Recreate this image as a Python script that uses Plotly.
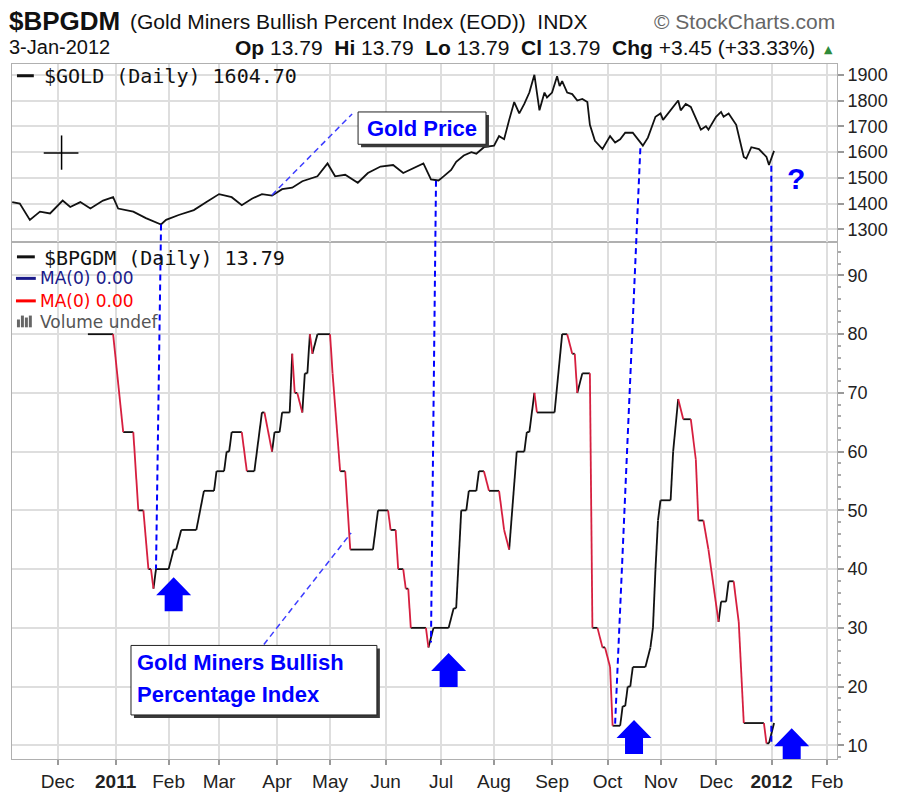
import plotly.graph_objects as go

# ---------------- data ----------------
gold_dates = [
    "2010-11-05", "2010-11-10", "2010-11-16", "2010-11-22", "2010-11-26",
    "2010-12-03", "2010-12-08", "2010-12-14", "2010-12-20", "2010-12-27",
    "2010-12-31", "2011-01-04", "2011-01-12", "2011-01-19", "2011-01-27",
    "2011-01-31", "2011-02-07", "2011-02-15", "2011-02-22", "2011-03-01",
    "2011-03-08", "2011-03-14", "2011-03-18", "2011-03-24", "2011-03-30",
    "2011-04-05", "2011-04-11", "2011-04-15", "2011-04-25", "2011-04-29",
    "2011-05-04", "2011-05-10", "2011-05-17", "2011-05-23", "2011-05-30",
    "2011-06-06", "2011-06-10", "2011-06-16", "2011-06-22", "2011-06-27",
    "2011-06-30", "2011-07-04", "2011-07-07", "2011-07-11", "2011-07-14",
    "2011-07-19", "2011-07-21", "2011-07-26", "2011-08-01", "2011-08-03",
    "2011-08-05", "2011-08-09", "2011-08-11", "2011-08-15", "2011-08-17",
    "2011-08-19", "2011-08-23", "2011-08-25", "2011-08-29", "2011-08-30",
    "2011-09-01", "2011-09-05", "2011-09-06", "2011-09-07", "2011-09-09",
    "2011-09-13", "2011-09-15", "2011-09-19", "2011-09-21", "2011-09-22",
    "2011-09-26", "2011-09-29", "2011-10-04", "2011-10-06", "2011-10-10",
    "2011-10-12", "2011-10-17", "2011-10-21", "2011-10-25", "2011-10-28",
    "2011-11-01", "2011-11-02", "2011-11-07", "2011-11-10", "2011-11-11",
    "2011-11-15", "2011-11-17", "2011-11-21", "2011-11-23", "2011-11-25",
    "2011-11-28", "2011-12-01", "2011-12-05", "2011-12-06", "2011-12-08",
    "2011-12-13", "2011-12-16", "2011-12-19", "2011-12-21", "2011-12-26",
    "2011-12-29", "2011-12-30", "2012-01-03",
]
gold_values = [
    1406, 1400, 1337, 1369, 1362,
    1412, 1387, 1406, 1381, 1412,
    1425, 1381, 1369, 1344, 1319,
    1337, 1356, 1375, 1406, 1437,
    1425, 1394, 1419, 1437, 1431,
    1456, 1462, 1487, 1506, 1556,
    1506, 1512, 1481, 1519, 1544,
    1550, 1519, 1537, 1556, 1494,
    1490, 1506, 1531, 1562, 1587,
    1600, 1594, 1619, 1625, 1662,
    1650, 1725, 1794, 1750, 1787,
    1831, 1900, 1762, 1831, 1812,
    1831, 1894, 1856, 1875, 1831,
    1825, 1800, 1806, 1794, 1706,
    1644, 1612, 1662, 1637, 1650,
    1675, 1675, 1625, 1656, 1737,
    1750, 1725, 1762, 1800, 1762,
    1787, 1775, 1731, 1687, 1700,
    1687, 1737, 1756, 1737, 1750,
    1706, 1581, 1575, 1619, 1612,
    1581, 1550, 1604.70,
]

bpgdm_dates = [
    "2010-12-17", "2010-12-31", "2011-01-06", "2011-01-12", "2011-01-14",
    "2011-01-18", "2011-01-20", "2011-01-21", "2011-01-24", "2011-01-25",
    "2011-02-01", "2011-02-03", "2011-02-04", "2011-02-08", "2011-02-16",
    "2011-02-21", "2011-02-25", "2011-02-28", "2011-03-03", "2011-03-04",
    "2011-03-07", "2011-03-08", "2011-03-14", "2011-03-16", "2011-03-21",
    "2011-03-24", "2011-03-25", "2011-03-30", "2011-03-31", "2011-04-04",
    "2011-04-05", "2011-04-08", "2011-04-11", "2011-04-12", "2011-04-13",
    "2011-04-15", "2011-04-18", "2011-04-19", "2011-04-20", "2011-04-21",
    "2011-04-25", "2011-05-02", "2011-05-03", "2011-05-06", "2011-05-10",
    "2011-05-12", "2011-05-25", "2011-05-27", "2011-06-02", "2011-06-03",
    "2011-06-07", "2011-06-08", "2011-06-10", "2011-06-13", "2011-06-14",
    "2011-06-15", "2011-06-23", "2011-06-24", "2011-06-28", "2011-07-06",
    "2011-07-08", "2011-07-11", "2011-07-13", "2011-07-15", "2011-07-18",
    "2011-07-21", "2011-07-22", "2011-07-26", "2011-07-28", "2011-08-03",
    "2011-08-05", "2011-08-09", "2011-08-12", "2011-08-17", "2011-08-18",
    "2011-08-19", "2011-08-23", "2011-08-24", "2011-09-02", "2011-09-07",
    "2011-09-09", "2011-09-13", "2011-09-14", "2011-09-15", "2011-09-19",
    "2011-09-22", "2011-09-23", "2011-09-27", "2011-09-29", "2011-09-30",
    "2011-10-04", "2011-10-05", "2011-10-10", "2011-10-11", "2011-10-12",
    "2011-10-13", "2011-10-14", "2011-10-17", "2011-10-24", "2011-10-26",
    "2011-10-27", "2011-10-28", "2011-10-31", "2011-11-01", "2011-11-07",
    "2011-11-08", "2011-11-10", "2011-11-14", "2011-11-17", "2011-11-21",
    "2011-11-22", "2011-11-24", "2011-11-28", "2011-12-02", "2011-12-05",
    "2011-12-07", "2011-12-08", "2011-12-12", "2011-12-14", "2011-12-16",
    "2011-12-28", "2011-12-29", "2011-12-30", "2012-01-03",
]
bpgdm_values = [
    80, 80, 63.33, 63.33, 50,
    50, 40, 40, 36.67, 40,
    40, 43.33, 43.33, 46.67, 46.67,
    53.33, 53.33, 56.67, 56.67, 60,
    60, 63.33, 63.33, 56.67, 56.67,
    66.67, 66.67, 60, 63.33, 63.33,
    66.67, 66.67, 76.67, 70, 70,
    66.67, 73.33, 73.33, 80, 76.67,
    80, 80, 73.33, 56.67, 56.67,
    43.33, 43.33, 50, 50, 46.67,
    46.67, 40, 40, 36.67, 36.67,
    30, 30, 26.67, 30, 30,
    33.33, 33.33, 50, 50, 53.33,
    53.33, 56.67, 56.67, 53.33, 53.33,
    46.67, 43.33, 60, 60, 63.33,
    63.33, 70, 66.67, 66.67, 80,
    80, 76.67, 76.67, 70, 73.33,
    73.33, 30, 30, 26.67, 26.67,
    23.33, 13.33, 13.33, 16.67, 16.67,
    20, 20, 23.33, 23.33, 26.67,
    30, 40, 48.28, 51.72, 51.72,
    60, 68.97, 65.52, 65.52, 58.62,
    48.28, 48.28, 43.33, 31.03, 34.48,
    34.48, 37.93, 37.93, 31.03, 13.79,
    13.79, 10.34, 10.34, 13.79,
]

month_ticks = ["2010-12-01", "2011-01-03", "2011-02-01", "2011-03-01", "2011-04-01",
               "2011-05-02", "2011-06-01", "2011-07-01", "2011-08-01", "2011-09-01",
               "2011-10-03", "2011-11-01", "2011-12-01", "2012-01-02", "2012-02-01"]
month_labels = ["Dec", "<b>2011</b>", "Feb", "Mar", "Apr", "May", "Jun", "Jul", "Aug",
                "Sep", "Oct", "Nov", "Dec", "<b>2012</b>", "Feb"]

# signal connectors: gold low -> BPGDM low
sig_gold_dates = ["2011-01-27", "2011-06-29", "2011-10-20", "2011-12-30 22:00"]
sig_gold_values = [1319, 1489, 1615, 1547]
sig_bp_dates = ["2011-01-25", "2011-06-27", "2011-10-06", "2011-12-30 22:00"]
sig_bp_values = [40, 27.5, 13.7, 10.5]

# buy arrows (tip position)
arrow_dates = ["2011-02-03", "2011-07-06", "2011-10-17 12:00", "2012-01-12"]
arrow_values = [38.6, 25.7, 14.3, 12.9]

# ---------------- layout constants ----------------
W, H = 899, 803
L, R, T, B = 11, 843, 64, 774
SPLIT_PX = 246
split = (B - SPLIT_PX) / (B - T)
GOLD_RANGE = [1250.6, 1941.8]
BP_RANGE = [7.67, 95.67]
X_RANGE = ["2010-11-04 22:00", "2012-02-06 23:00"]

GRID = "#dedede"
FRAME = "#b0b0b0"
BLUE = "#0000ff"
RED = "#d61f3f"
FONT = "Liberation Sans, Arial, sans-serif"


def px(x):
    return (x - L) / (R - L)


def py(y):
    return (B - y) / (B - T)


def gold_paper(v):
    return split + (v - GOLD_RANGE[0]) / (GOLD_RANGE[1] - GOLD_RANGE[0]) * (1 - split)


def bp_paper(v):
    return (v - BP_RANGE[0]) / (BP_RANGE[1] - BP_RANGE[0]) * split


def segments(dates, values, want_down):
    xs, ys = [], []
    for i in range(len(values) - 1):
        down = values[i + 1] < values[i]
        if down == want_down:
            xs += [dates[i], dates[i + 1], None]
            ys += [values[i], values[i + 1], None]
    return xs, ys


fig = go.Figure()

fig.add_trace(go.Scatter(x=gold_dates, y=gold_values, mode="lines",
                         line=dict(color="#111111", width=1.8),
                         xaxis="x2", yaxis="y2", hoverinfo="skip"))

bx, by = segments(bpgdm_dates, bpgdm_values, False)
rx, ry = segments(bpgdm_dates, bpgdm_values, True)
fig.add_trace(go.Scatter(x=bx, y=by, mode="lines", line=dict(color="#111111", width=1.8),
                         xaxis="x", yaxis="y", hoverinfo="skip", connectgaps=False))
fig.add_trace(go.Scatter(x=rx, y=ry, mode="lines", line=dict(color=RED, width=1.8),
                         xaxis="x", yaxis="y", hoverinfo="skip", connectgaps=False))

shapes = []

# signal connectors
for gd, gv, bd, bv in zip(sig_gold_dates, sig_gold_values, sig_bp_dates, sig_bp_values):
    shapes.append(dict(type="line", xref="x", yref="paper", x0=gd, y0=gold_paper(gv),
                       x1=bd, y1=bp_paper(bv), line=dict(color=BLUE, width=2, dash="6px,4px")))

# callout boxes with shadow
def box(x0, y0, x1, y1):
    shapes.append(dict(type="rect", xref="paper", yref="paper", x0=px(x0 + 3), x1=px(x1 + 3),
                       y0=py(y1 + 3), y1=py(y0 + 3), fillcolor="#3a3a3a", line=dict(width=0)))
    shapes.append(dict(type="rect", xref="paper", yref="paper", x0=px(x0), x1=px(x1),
                       y0=py(y1), y1=py(y0), fillcolor="white",
                       line=dict(color="#222222", width=1)))

# callout leader lines
shapes.append(dict(type="line", xref="paper", yref="paper", x0=px(273), y0=py(198),
                   x1=px(354), y1=py(115), line=dict(color="#3c3cff", width=1.5, dash="6px,4px")))
shapes.append(dict(type="line", xref="paper", yref="paper", x0=px(265), y0=py(657),
                   x1=px(353), y1=py(543), line=dict(color="#3c3cff", width=1.5, dash="6px,4px")))
box(360, 113, 489, 146)
box(131, 658, 379, 729)

# buy arrows
arrow_path = "M0,0 L17.5,-18 L9,-18 L9,-34 L-9,-34 L-9,-18 L-17.5,-18 Z"
for d, v in zip(arrow_dates, arrow_values):
    shapes.append(dict(type="path", xref="x", yref="y", xsizemode="pixel", ysizemode="pixel",
                       xanchor=d, yanchor=v, path=arrow_path, fillcolor=BLUE,
                       line=dict(width=0)))

# crosshair cursor
shapes.append(dict(type="line", xref="paper", yref="paper", x0=px(43), x1=px(78),
                   y0=py(155), y1=py(155), line=dict(color="black", width=1.5)))
shapes.append(dict(type="line", xref="paper", yref="paper", x0=px(61), x1=px(61),
                   y0=py(137), y1=py(172), line=dict(color="black", width=1.5)))

# legend swatches
def swatch(x0, x1, y, color):
    shapes.append(dict(type="line", xref="paper", yref="paper", x0=px(x0), x1=px(x1),
                       y0=py(y), y1=py(y), line=dict(color=color, width=3)))

swatch(16, 33, 76, "#111111")
swatch(16, 34, 261, "#111111")
swatch(15, 35, 283, "#1a1a8a")
swatch(15, 35, 306, "#ff0000")
for bx0, h in [(16, 8), (20, 12), (24, 10), (28, 12)]:
    shapes.append(dict(type="rect", xref="paper", yref="paper", x0=px(bx0), x1=px(bx0 + 3),
                       y0=py(333), y1=py(333 - h), fillcolor="#666666", line=dict(width=0)))

annotations = []


def ann(text, x, y, size, color="#111111", xanchor="left", family=FONT):
    annotations.append(dict(text=text, x=px(x), y=py(y), xref="paper", yref="paper",
                            xanchor=xanchor, yanchor="middle", showarrow=False,
                            font=dict(family=family, size=size, color=color)))


NB = "\u00a0"
last_bp = bpgdm_values[-1]
last_gold = gold_values[-1]

# header
ann("<b>$BPGDM</b>", 6, 20, 26)
ann("(Gold Miners Bullish Percent Index (EOD))" + NB * 2 + "INDX", 128, 21, 21)
ann("\u00a9" + NB + "StockCharts.com", 843, 21, 21, color="#666666", xanchor="right")
ann("3-Jan-2012", 6, 47, 20)
ann(f"<b>Op</b> {last_bp:.2f}{NB}{NB}<b>Hi</b> {last_bp:.2f}{NB}{NB}<b>Lo</b> {last_bp:.2f}"
    f"{NB}{NB}<b>Cl</b> {last_bp:.2f}{NB}{NB}<b>Chg</b> +3.45 (+33.33%)",
    823, 47, 21, xanchor="right")
ann("\u25b2", 834, 49, 11, color="#2e8b3a", xanchor="center", family="DejaVu Sans")

# panel legends
MONO = "DejaVu Sans Mono, monospace"
ann(f"$GOLD (Daily) {last_gold:.2f}", 41, 76, 20, family=MONO)
ann(f"$BPGDM (Daily) {last_bp:.2f}", 41, 262, 20, family=MONO)
ann("MA(0) 0.00", 37, 283, 17, color="#1a1a8a", family="DejaVu Sans")
ann("MA(0) 0.00", 37, 306, 17, color="#ff0000", family="DejaVu Sans")
ann("Volume undef", 37, 328, 17, color="#555555", family="DejaVu Sans")

# callout texts
ann("<b>Gold Price</b>", 424, 130, 22, color=BLUE, xanchor="center")
ann("<b>Gold Miners Bullish</b>", 135, 675, 22, color=BLUE)
ann("<b>Percentage Index</b>", 135, 708, 22, color=BLUE)
ann("<b>?</b>", 802, 181, 30, color=BLUE, xanchor="center")

tickfont = dict(family=FONT, size=18, color="#222222")
common_x = dict(type="date", range=X_RANGE, rangebreaks=[dict(bounds=["sat", "mon"])],
                tickvals=month_ticks, ticktext=month_labels, showgrid=True,
                gridcolor=GRID, gridwidth=1.5, showline=True, linecolor=FRAME,
                linewidth=1, mirror=True, zeroline=False)

fig.update_layout(
    width=W, height=H,
    margin=dict(l=L, r=W - R, t=T, b=H - B, pad=0),
    paper_bgcolor="white", plot_bgcolor="white", showlegend=False,
    hovermode=False,
    xaxis=dict(common_x, domain=[0, 1], anchor="y", ticks="outside", ticklen=5,
               tickcolor="#999999", tickwidth=1.5,
               tickfont=dict(family=FONT, size=19, color="#222222")),
    xaxis2=dict(common_x, domain=[0, 1], anchor="y2", matches="x", showticklabels=False,
                ticks=""),
    yaxis=dict(domain=[0, split], range=BP_RANGE, side="right", tick0=0, dtick=10,
               ticks="outside", ticklen=6, tickcolor="#999999", tickwidth=1.5,
               showgrid=True, gridcolor=GRID, gridwidth=1.5, zeroline=False,
               showline=True, linecolor=FRAME, linewidth=1, mirror=True,
               tickfont=tickfont,
               minor=dict(dtick=2, tick0=0, ticks="outside", ticklen=3,
                          tickcolor="#aaaaaa", showgrid=False)),
    yaxis2=dict(domain=[split, 1], range=GOLD_RANGE, side="right", tick0=0, dtick=100,
                ticks="outside", ticklen=6, tickcolor="#999999", tickwidth=1.5,
                showgrid=True, gridcolor=GRID, gridwidth=1.5, zeroline=False,
                showline=True, linecolor=FRAME, linewidth=1, mirror=True,
                tickfont=tickfont),
    shapes=shapes,
    annotations=annotations,
)

fig.write_html("out.html", config={"displayModeBar": False},
               post_script="document.body.style.margin='0';document.body.style.overflow='hidden';")
